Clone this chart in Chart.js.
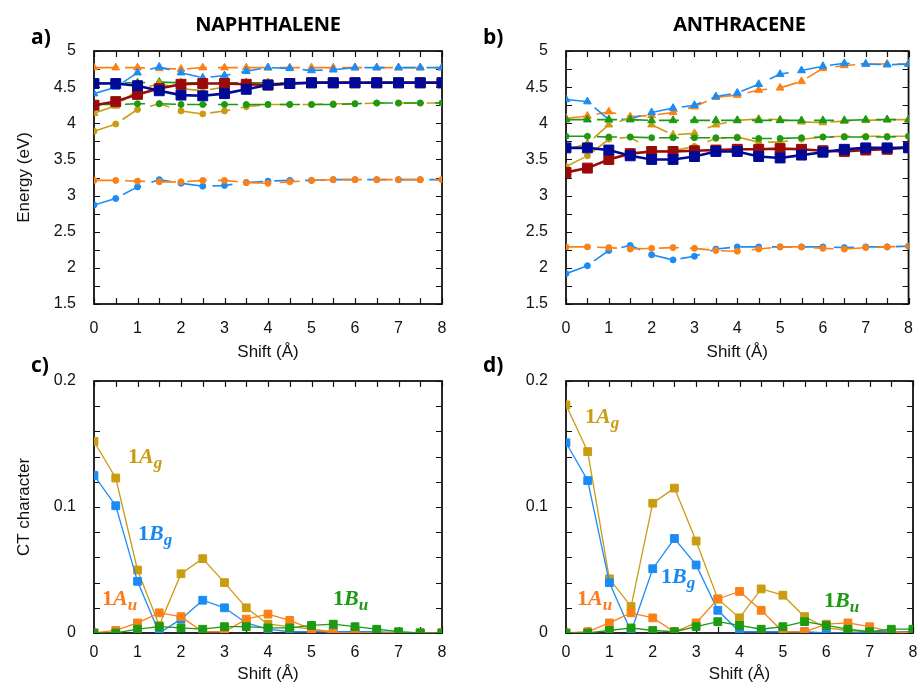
<!DOCTYPE html>
<html>
<head>
<meta charset="utf-8">
<script src="https://cdn.jsdelivr.net/npm/chart.js@4.4.1/dist/chart.umd.min.js"></script>
<style>
  body { margin: 0; background: #fff; width: 920px; height: 689px; position: relative; overflow: hidden; }
  canvas { position: absolute; }
  .head { position: absolute; font-family: "Open Sans", sans-serif; font-weight: bold; font-size: 20px; line-height: 20px; color: #000; text-align: center; letter-spacing: -0.3px; }
  .tag { position: absolute; font-family: "Open Sans", sans-serif; font-weight: bold; font-size: 21px; line-height: 20px; color: #000; }
  .sym { position: absolute; font-family: "Liberation Serif", serif; font-weight: bold; font-size: 22px; line-height: 20px; white-space: nowrap; }
  .sym i { font-style: italic; }
  .sym sub { font-style: italic; font-size: 17px; vertical-align: baseline; position: relative; top: 5px; }
</style>
</head>
<body>
<canvas id="chartA" width="460" height="365" style="left:0;top:0"></canvas>
<canvas id="chartB" width="460" height="365" style="left:460px;top:0"></canvas>
<canvas id="chartC" width="460" height="359" style="left:0;top:330px"></canvas>
<canvas id="chartD" width="460" height="359" style="left:460px;top:330px"></canvas>

<div class="head" style="left:94px;top:14px;width:348px">NAPHTHALENE</div>
<div class="head" style="left:566px;top:14px;width:347px">ANTHRACENE</div>
<div class="tag" style="left:31px;top:26px">a)</div>
<div class="tag" style="left:483px;top:26px">b)</div>
<div class="tag" style="left:31px;top:354px">c)</div>
<div class="tag" style="left:483px;top:354px">d)</div>

<div class="sym" style="left:128px;top:446px;color:#c99c12">1<i>A</i><sub>g</sub></div>
<div class="sym" style="left:138px;top:523px;color:#1a88f2">1<i>B</i><sub>g</sub></div>
<div class="sym" style="left:102px;top:588px;color:#fb7a1c">1<i>A</i><sub>u</sub></div>
<div class="sym" style="left:333px;top:588px;color:#1b9a12">1<i>B</i><sub>u</sub></div>
<div class="sym" style="left:585px;top:406px;color:#c99c12">1<i>A</i><sub>g</sub></div>
<div class="sym" style="left:661px;top:566px;color:#1a88f2">1<i>B</i><sub>g</sub></div>
<div class="sym" style="left:577px;top:588px;color:#fb7a1c">1<i>A</i><sub>u</sub></div>
<div class="sym" style="left:824px;top:590px;color:#1b9a12">1<i>B</i><sub>u</sub></div>

<script>
// shift values (angstrom)
const shift = [0, 0.5, 1, 1.5, 2, 2.5, 3, 3.5, 4, 4.5, 5, 5.5, 6, 6.5, 7, 7.5, 8];

// naphthalene energies (eV)
const naphNavySq   = [4.55, 4.55, 4.52, 4.45, 4.39, 4.38, 4.41, 4.47, 4.53, 4.55, 4.56, 4.56, 4.56, 4.56, 4.56, 4.56, 4.56];
const naphRedSq    = [4.25, 4.30, 4.40, 4.48, 4.54, 4.55, 4.55, 4.54, 4.53, 4.55, 4.56, 4.56, 4.56, 4.56, 4.56, 4.56, 4.56];
const naphOrangeTri = [4.77, 4.77, 4.77, 4.76, 4.75, 4.77, 4.77, 4.77, 4.77, 4.77, 4.77, 4.77, 4.77, 4.77, 4.77, 4.77, 4.77];
const naphBlueTri  = [4.41, 4.50, 4.70, 4.78, 4.70, 4.63, 4.66, 4.72, 4.77, 4.76, 4.73, 4.74, 4.77, 4.77, 4.77, 4.77, 4.77];
const naphGreenTri = [4.56, 4.56, 4.56, 4.57, 4.56, 4.56, 4.56, 4.56, 4.56, 4.56, 4.57, 4.57, 4.57, 4.57, 4.57, 4.57, 4.57];
const naphGoldTri  = [4.14, 4.24, 4.46, 4.55, 4.48, 4.45, 4.50, 4.53, 4.55, 4.56, 4.56, 4.57, 4.57, 4.57, 4.57, 4.57, 4.57];
const naphGoldDia  = [3.89, 3.99, 4.19, 4.27, 4.17, 4.13, 4.17, 4.23, 4.26, 4.26, 4.26, 4.27, 4.27, 4.28, 4.28, 4.28, 4.28];
const naphGreenDia = [4.26, 4.26, 4.27, 4.27, 4.26, 4.26, 4.26, 4.26, 4.26, 4.26, 4.26, 4.26, 4.27, 4.28, 4.28, 4.28, 4.28];
const naphOrangeDia = [3.21, 3.21, 3.20, 3.19, 3.19, 3.21, 3.21, 3.18, 3.17, 3.19, 3.21, 3.22, 3.22, 3.22, 3.22, 3.22, 3.22];
const naphBlueDia  = [2.87, 2.96, 3.12, 3.22, 3.17, 3.13, 3.14, 3.18, 3.20, 3.21, 3.21, 3.22, 3.22, 3.22, 3.22, 3.22, 3.22];

// anthracene energies (eV)
const anthNavySq   = [3.66, 3.66, 3.63, 3.55, 3.50, 3.50, 3.54, 3.61, 3.61, 3.54, 3.52, 3.56, 3.60, 3.64, 3.66, 3.66, 3.66];
const anthRedSq    = [3.32, 3.38, 3.50, 3.58, 3.61, 3.61, 3.62, 3.63, 3.64, 3.64, 3.65, 3.64, 3.62, 3.61, 3.63, 3.64, 3.67];
const anthBlueTri  = [4.33, 4.30, 4.05, 4.06, 4.15, 4.21, 4.25, 4.37, 4.42, 4.54, 4.68, 4.73, 4.79, 4.83, 4.82, 4.81, 4.82];
const anthOrangeTri = [4.07, 4.10, 4.16, 4.09, 4.11, 4.15, 4.23, 4.36, 4.39, 4.46, 4.49, 4.58, 4.76, 4.80, 4.82, 4.82, 4.82];
const anthGreenTri = [4.05, 4.05, 4.05, 4.05, 4.04, 4.04, 4.04, 4.04, 4.04, 4.04, 4.04, 4.04, 4.04, 4.04, 4.05, 4.05, 4.05];
const anthGoldTri  = [3.63, 3.72, 3.98, 4.07, 3.98, 3.84, 3.86, 3.98, 4.04, 4.06, 4.05, 4.02, 4.01, 4.03, 4.04, 4.05, 4.05];
const anthGoldDia  = [3.40, 3.55, 3.78, 3.81, 3.62, 3.62, 3.68, 3.79, 3.81, 3.74, 3.74, 3.78, 3.81, 3.82, 3.82, 3.82, 3.82];
const anthGreenDia = [3.82, 3.82, 3.81, 3.81, 3.80, 3.80, 3.80, 3.80, 3.80, 3.79, 3.79, 3.80, 3.81, 3.81, 3.81, 3.81, 3.82];
const anthOrangeDia = [2.29, 2.29, 2.28, 2.26, 2.27, 2.28, 2.27, 2.24, 2.23, 2.26, 2.29, 2.29, 2.27, 2.26, 2.28, 2.29, 2.30];
const anthBlueDia  = [1.92, 2.03, 2.24, 2.31, 2.18, 2.11, 2.16, 2.26, 2.29, 2.29, 2.29, 2.29, 2.29, 2.28, 2.29, 2.29, 2.30];

// CT character
const naphAg = [0.152, 0.123, 0.050, 0.006, 0.047, 0.059, 0.040, 0.020, 0.007, 0.005, 0.003, 0.001, 0, 0, 0, 0, 0];
const naphBg = [0.125, 0.101, 0.041, 0, 0.011, 0.026, 0.020, 0.008, 0.003, 0.001, 0.001, 0.001, 0.001, 0.001, 0, 0, 0];
const naphAu = [0, 0.002, 0.008, 0.016, 0.013, 0.001, 0.001, 0.011, 0.015, 0.010, 0.003, 0, 0, 0, 0, 0, 0];
const naphBu = [0, 0, 0.003, 0.005, 0.004, 0.003, 0.005, 0.005, 0.004, 0.004, 0.006, 0.007, 0.005, 0.003, 0.001, 0, 0];

const anthAg = [0.181, 0.144, 0.043, 0.021, 0.103, 0.115, 0.073, 0.027, 0.012, 0.035, 0.030, 0.013, 0.004, 0.002, 0.001, 0.001, 0.001];
const anthBg = [0.151, 0.121, 0.040, 0.001, 0.051, 0.075, 0.054, 0.018, 0.001, 0.001, 0.001, 0.001, 0, 0, 0.001, 0.001, 0.001];
const anthAu = [0, 0.001, 0.008, 0.016, 0.012, 0.001, 0.008, 0.027, 0.033, 0.018, 0.001, 0.001, 0.007, 0.008, 0.005, 0.001, 0];
const anthBu = [0, 0, 0.002, 0.004, 0.002, 0.001, 0.005, 0.009, 0.006, 0.003, 0.005, 0.009, 0.006, 0.003, 0.001, 0.003, 0.003];

const gold = '#c99c12', blue = '#1c8cf5', orange = '#fb8016', green = '#1b9a12';
const navy = '#000a96', darkRed = '#990a0a';
const dash = [20, 11];

function pts(values) {
  return values.map((v, i) => ({ x: shift[i], y: v }));
}

function series(label, values, color, style, extra) {
  return Object.assign({
    label: label,
    data: pts(values),
    borderColor: color,
    backgroundColor: color,
    pointBackgroundColor: color,
    pointBorderColor: color,
    pointBorderWidth: 1,
    borderWidth: 1.6,
    borderDash: dash,
    pointStyle: style,
    pointRadius: style === 'circle' ? 3 : 4.5,
    tension: 0
  }, extra || {});
}

const squareMain = { borderDash: [], borderWidth: 2.6, pointRadius: 7 };
const ctLine = { borderDash: [], borderWidth: 1.3, pointRadius: 5.5 };

// inward ticks on all four sides, gnuplot style
const frameTicks = {
  id: 'frameTicks',
  beforeDatasetsDraw(chart, args, opts) {
    const { ctx, chartArea: a, scales: { x, y } } = chart;
    ctx.save();
    ctx.strokeStyle = '#111';
    ctx.lineWidth = 1.2;
    ctx.beginPath();
    const len = 6;
    for (let v = x.min; v <= x.max + 1e-9; v += 0.5) {
      const px = Math.round(x.getPixelForValue(v)) + 0.5;
      ctx.moveTo(px, a.bottom); ctx.lineTo(px, a.bottom - len);
      ctx.moveTo(px, a.top); ctx.lineTo(px, a.top + len);
    }
    const n = Math.round((y.max - y.min) / opts.minor);
    for (let k = 0; k <= n; k++) {
      const py = Math.round(y.getPixelForValue(y.min + k * opts.minor)) + 0.5;
      ctx.moveTo(a.left, py); ctx.lineTo(a.left + len, py);
      ctx.moveTo(a.right, py); ctx.lineTo(a.right - len, py);
    }
    ctx.stroke();
    ctx.lineWidth = 1.8;
    ctx.strokeRect(a.left, a.top, a.right - a.left, a.bottom - a.top);
    ctx.restore();
  }
};

const tickFont = { family: 'Liberation Sans', size: 16 };
const titleFont = { family: 'Liberation Sans', size: 17 };

function makeChart(id, datasets, cfg) {
  return new Chart(document.getElementById(id), {
    type: 'line',
    data: { datasets: datasets },
    options: {
      responsive: false,
      animation: false,
      devicePixelRatio: 1,
      layout: { padding: { top: cfg.top, right: cfg.right, left: 0, bottom: 0 } },
      plugins: {
        legend: { display: false },
        tooltip: { enabled: false },
        frameTicks: { minor: cfg.minor }
      },
      scales: {
        x: {
          type: 'linear', min: 0, max: 8,
          grid: { display: false }, border: { display: false },
          ticks: { stepSize: 1, padding: cfg.xPad, font: tickFont, color: '#111', autoSkip: false, maxRotation: 0 },
          title: { display: true, text: 'Shift (Å)', font: titleFont, color: '#111', padding: { top: 0, bottom: cfg.xTitlePad } },
          afterFit: s => { s.height = cfg.xH; }
        },
        y: {
          type: 'linear', min: cfg.yMin, max: cfg.yMax,
          grid: { display: false }, border: { display: false },
          ticks: { stepSize: cfg.yStep, padding: 10, font: tickFont, color: '#111', autoSkip: false,
                   callback: v => String(+v.toFixed(2)) },
          title: { display: !!cfg.yTitle, text: cfg.yTitle || '', font: titleFont, color: '#111', padding: { top: 14, bottom: 0 } },
          afterFit: s => { s.width = cfg.yW; }
        }
      }
    },
    plugins: [frameTicks]
  });
}

makeChart('chartA', [
  series('navy', naphNavySq, navy, 'rect', squareMain),
  series('red', naphRedSq, darkRed, 'rect', squareMain),
  series('goldTri', naphGoldTri, gold, 'triangle'),
  series('greenDia', naphGreenDia, green, 'circle'),
  series('goldDia', naphGoldDia, gold, 'circle'),
  series('greenTri', naphGreenTri, green, 'triangle'),
  series('blueTri', naphBlueTri, blue, 'triangle'),
  series('orangeTri', naphOrangeTri, orange, 'triangle'),
  series('orangeDia', naphOrangeDia, orange, 'circle'),
  series('blueDia', naphBlueDia, blue, 'circle')
], { top: 51, right: 18, yW: 94, xH: 61, xPad: 7, xTitlePad: 2, yMin: 1.5, yMax: 5, yStep: 0.5, minor: 0.25, yTitle: 'Energy (eV)' });

makeChart('chartB', [
  series('navy', anthNavySq, navy, 'rect', squareMain),
  series('red', anthRedSq, darkRed, 'rect', squareMain),
  series('greenDia', anthGreenDia, green, 'circle'),
  series('goldDia', anthGoldDia, gold, 'circle'),
  series('greenTri', anthGreenTri, green, 'triangle'),
  series('goldTri', anthGoldTri, gold, 'triangle'),
  series('blueTri', anthBlueTri, blue, 'triangle'),
  series('orangeTri', anthOrangeTri, orange, 'triangle'),
  series('orangeDia', anthOrangeDia, orange, 'circle'),
  series('blueDia', anthBlueDia, blue, 'circle')
], { top: 51, right: 7, yW: 106, xH: 61, xPad: 7, xTitlePad: 2, yMin: 1.5, yMax: 5, yStep: 0.5, minor: 0.25 });

makeChart('chartC', [
  series('1Bu', naphBu, green, 'rect', ctLine),
  series('1Au', naphAu, orange, 'rect', ctLine),
  series('1Bg', naphBg, blue, 'rect', ctLine),
  series('1Ag', naphAg, gold, 'rect', ctLine)
], { top: 51, right: 18, yW: 94, xH: 56, xPad: 2, xTitlePad: 4, yMin: 0, yMax: 0.2, yStep: 0.1, minor: 0.02, yTitle: 'CT character' });

makeChart('chartD', [
  series('1Bu', anthBu, green, 'rect', ctLine),
  series('1Au', anthAu, orange, 'rect', ctLine),
  series('1Bg', anthBg, blue, 'rect', ctLine),
  series('1Ag', anthAg, gold, 'rect', ctLine)
], { top: 51, right: 7, yW: 106, xH: 56, xPad: 2, xTitlePad: 4, yMin: 0, yMax: 0.2, yStep: 0.1, minor: 0.02 });
</script>
</body>
</html>
